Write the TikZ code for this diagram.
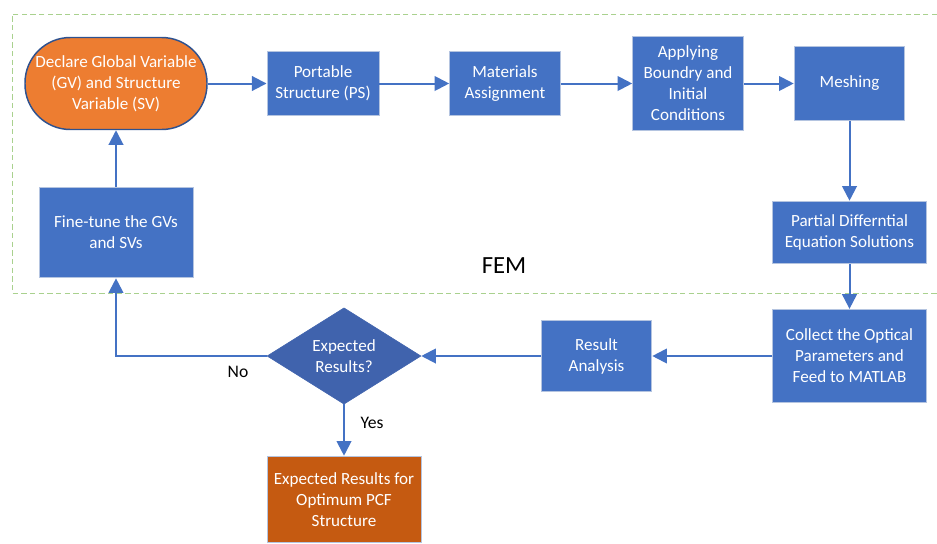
\documentclass[tikz,border=0pt]{standalone}
\usepackage{fontspec}
\setmainfont{Carlito}
\usetikzlibrary{arrows.meta,shapes.geometric}

\definecolor{boxblue}{HTML}{4472C4}
\definecolor{boxedge}{HTML}{B4C4E0}
\definecolor{diablue}{HTML}{4063AD}
\definecolor{startorange}{HTML}{ED7D31}
\definecolor{startedge}{HTML}{2F528F}
\definecolor{endorange}{HTML}{C55A11}
\definecolor{femgreen}{HTML}{A9D18E}

\tikzset{
  stepbox/.style={rectangle, draw=boxedge, line width=0.7pt, fill=boxblue,
    text=white, align=center, inner sep=1pt,
    font=\fontsize{12.8pt}{15.75pt}\selectfont},
  startbox/.style={stepbox, fill=startorange, draw=startedge, line width=1.1pt},
  endbox/.style={stepbox, fill=endorange},
  askbox/.style={diamond, fill=diablue, draw=diablue, text=white, align=center,
    inner sep=0pt, font=\fontsize{12.8pt}{15.75pt}\selectfont},
  flow/.style={draw=boxblue, line width=1.5pt, -{Triangle[width=11pt,length=11pt]}},
  femline/.style={draw=femgreen, line width=0.6pt, dash pattern=on 4pt off 2.5pt},
  tag/.style={font=\fontsize{13.2pt}{16pt}\selectfont}
}

\begin{document}
\begin{tikzpicture}[x=0.75pt, y=-0.75pt]
\useasboundingbox (0,0) rectangle (937,543);

%% FEM region
\draw[femline] (937,14) -- (12,14) -- (12,293) -- (937,293);
\node[font=\fontsize{18.5pt}{22pt}\selectfont] (fem) at (504,266) {FEM};

%% boxes
\node[startbox, minimum width=136.5pt, minimum height=69pt, rounded corners=34pt]
  (decl) at (116,83.5) {Declare Global Variable\\(GV) and Structure\\Variable (SV)};   %% start
\node[stepbox, minimum width=84pt, minimum height=48pt]
  (ps) at (323,83.5) {Portable\\Structure (PS)};
\node[stepbox, minimum width=83pt, minimum height=48pt]
  (mat) at (505,83.5) {Materials\\Assignment};
\node[stepbox, minimum width=83pt, minimum height=70pt]
  (abc) at (688,83.5) {Applying\\Boundry and\\Initial\\Conditions};
\node[stepbox, minimum width=83pt, minimum height=55pt]
  (mesh) at (849.5,83.5) {Meshing};
\node[stepbox, minimum width=115pt, minimum height=47pt]
  (pde) at (849.5,232.5) {Partial Differntial\\Equation Solutions};
\node[stepbox, minimum width=115pt, minimum height=70pt]
  (collect) at (849.5,356) {Collect the Optical\\Parameters and\\Feed to MATLAB};
\node[stepbox, minimum width=83pt, minimum height=53pt]
  (ra) at (596.5,356) {Result\\Analysis};
\node[askbox, minimum width=115.5pt, minimum height=69pt]
  (ask) at (344,356) {Expected\\Results?};                                     %% decision
\node[endbox, minimum width=115.5pt, minimum height=65pt]
  (res) at (344,499.5) {Expected Results for\\Optimum PCF\\Structure};            %% end
\node[stepbox, minimum width=115.5pt, minimum height=68pt]
  (fine) at (116,232.5) {Fine-tune the GVs\\and SVs};

%% arrows
\draw[flow] (decl) -- (ps);
\draw[flow] (ps) -- (mat);
\draw[flow] (mat) -- (abc);
\draw[flow] (abc) -- (mesh);
\draw[flow] (mesh) -- (pde);
\draw[flow] (pde) -- (collect);
\draw[flow] (collect) -- (ra);
\draw[flow] (ra) -- (ask);
\draw[flow] (ask.west) -| (fine.south);
\draw[flow] (ask.south) -- (res.north);
\draw[flow] (fine) -- (decl);

%% labels
\node[tag] (no) at (238,372) {No};
\node[tag] (yes) at (372,423) {Yes};
\end{tikzpicture}
\end{document}
